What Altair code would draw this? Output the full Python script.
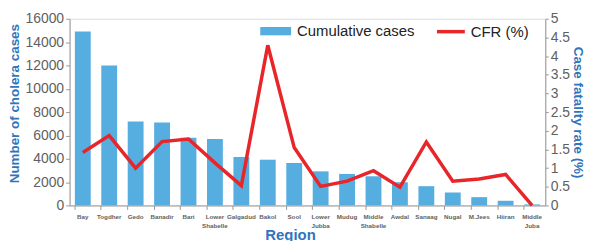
import altair as alt
import pandas as pd

regions = ["Bay", "Togdher", "Gedo", "Banadir", "Bari", "Lower Shabelle", "Galgadud",
           "Bakol", "Sool", "Lower Jubba", "Mudug", "Middle Shabelle", "Awdal",
           "Sanaag", "Nugal", "M.Jees", "Hiiran", "Middle Juba"]
cases = [14900, 12000, 7200, 7100, 5800, 5700, 4150, 3920, 3640, 2920, 2700, 2500,
         1990, 1650, 1110, 710, 400, 90]
cfr = [1.42, 1.87, 1.0, 1.71, 1.78, 1.14, 0.53, 4.29, 1.55, 0.51, 0.65, 0.93,
       0.49, 1.70, 0.65, 0.71, 0.83, 0.0]

df = pd.DataFrame({"Region": regions, "cases": cases, "cfr": cfr,
                   "s1": "Cumulative cases", "s2": "CFR (%)"})

BLUE = "#2F75BD"
GREY = "#5f5f5f"
FONT = "Liberation Sans"
W = 479

x = alt.X("Region:N", sort=regions, scale=alt.Scale(paddingInner=0.4, paddingOuter=0.2),
          axis=alt.Axis(title="Region", labelAngle=0, labelExpr="split(datum.label, ' ')",
                        labelFontSize=6.3, labelFontWeight="bold", labelColor=GREY,
                        labelFont=FONT, labelPadding=4, labelLineHeight=9,
                        bandPosition=0, tickSize=4, tickColor="#999999",
                        domainColor="#999999", titleFontSize=15, titleFont=FONT,
                        titleFontWeight="bold", titleColor=BLUE, titleX=222, titleY=22,
                        titleBaseline="top", titleAlign="center"))

bars = alt.Chart(df).mark_bar(color="#56AEE0").encode(
    x=x,
    y=alt.Y("cases:Q", scale=alt.Scale(domain=[0, 16000]),
            axis=alt.Axis(title="Number of cholera cases", values=list(range(0, 16001, 2000)),
                          format="d", grid=False, labelFontSize=14, labelColor=GREY, labelFont=FONT,
                          labelPadding=2, domainColor="#999999", tickColor="#999999", tickSize=4,
                          titleFontSize=13.5, titleFont=FONT, titleFontWeight="bold",
                          titleColor=BLUE, titlePadding=3, titleY=85)),
    color=alt.Color("s1:N", scale=alt.Scale(range=["#56AEE0"]),
                    legend=alt.Legend(title=None, orient="none", legendX=192, legendY=-3,
                                      symbolType="M-1,-0.27H1V0.27H-1Z", symbolSize=961,
                                      symbolStrokeWidth=0, labelFontSize=15, labelColor="#222222",
                                      labelFont=FONT, symbolOpacity=1, labelOffset=6)),
)

line = alt.Chart(df).mark_line(color="#E8262A", strokeWidth=3.5).encode(
    x=x,
    y=alt.Y("cfr:Q", scale=alt.Scale(domain=[0, 5]),
            axis=alt.Axis(title="Case fatality rate (%)", orient="right",
                          values=[0, 0.5, 1, 1.5, 2, 2.5, 3, 3.5, 4, 4.5, 5], format="~g",
                          grid=False, labelFontSize=14, labelColor=GREY, labelFont=FONT,
                          labelPadding=2, domainColor="#999999", tickColor="#999999", tickSize=3,
                          titleFontSize=13.5, titleFont=FONT, titleFontWeight="bold",
                          titleColor=BLUE, titlePadding=1)),
    stroke=alt.Stroke("s2:N", scale=alt.Scale(range=["#E8262A"]),
                      legend=alt.Legend(title=None, orient="none", legendX=368, legendY=-3,
                                        symbolType="stroke", symbolSize=784, symbolStrokeWidth=3.5,
                                        labelFontSize=15, labelColor="#222222",
                                        labelFont=FONT, labelOffset=4)),
)

chart = alt.layer(bars, line).resolve_scale(y="independent", color="independent",
                                            stroke="independent").properties(
    width=W, height=188, padding={"left": 0, "top": 3, "right": 0, "bottom": 0}
).configure_view(stroke=None).configure(background="white")

chart.save("out.html", embed_options={"renderer": "svg", "actions": False})
